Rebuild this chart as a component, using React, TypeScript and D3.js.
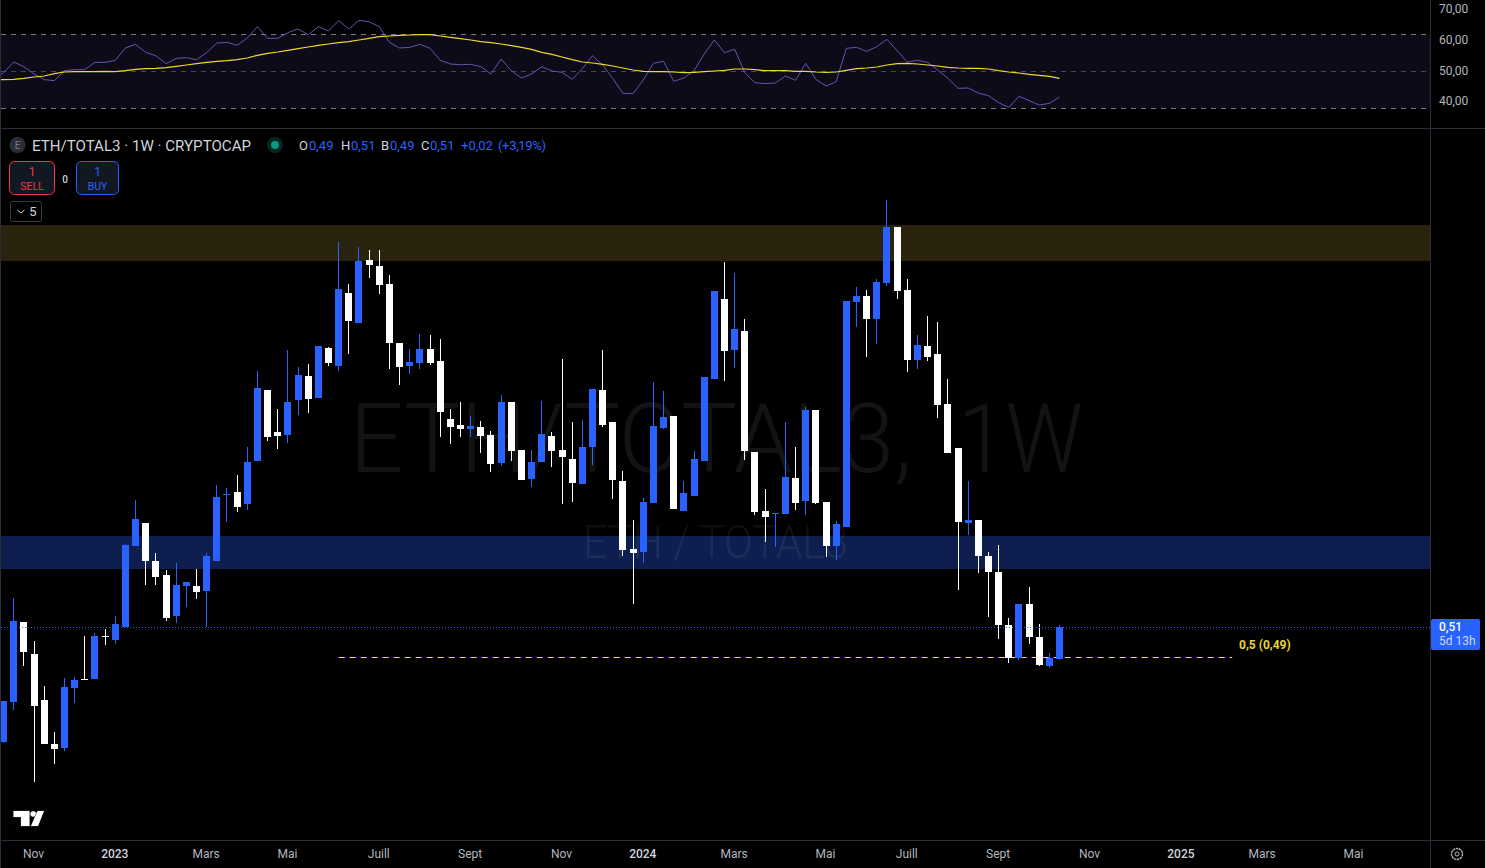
import * as d3 from "d3";
import { useEffect, useRef } from "react";

// weekly candles, oldest first
const opens = [
  0.4336, 0.4603, 0.5136, 0.4923, 0.4616, 0.4323, 0.4296, 0.4696, 0.4756, 0.4756, 0.5043, 0.5016, 0.5103, 0.5643, 0.5796,
  0.5543, 0.545, 0.5176, 0.5376, 0.5376, 0.5343, 0.5543, 0.5983, 0.6003, 0.5923, 0.621, 0.6683, 0.6403, 0.6383, 0.6616,
  0.6776, 0.663, 0.6963, 0.6843, 0.733, 0.713, 0.755, 0.751, 0.739, 0.6996, 0.6843, 0.6863, 0.6956, 0.6876, 0.649,
  0.645, 0.6423, 0.6436, 0.6383, 0.6196, 0.6603, 0.6283, 0.609, 0.6203, 0.6376, 0.6283, 0.6223, 0.6056, 0.6303, 0.6683,
  0.647, 0.6076, 0.5623, 0.5603, 0.593, 0.643, 0.651, 0.5876, 0.5976, 0.621, 0.6756, 0.729, 0.695, 0.7076, 0.627,
  0.5876, 0.5856, 0.5856, 0.6096, 0.5943, 0.655, 0.5936, 0.5643, 0.577, 0.727, 0.731, 0.7156, 0.7397, 0.777, 0.735,
  0.6883, 0.6976, 0.6923, 0.659, 0.6296, 0.5796, 0.5816, 0.5576, 0.547, 0.5116, 0.4896, 0.5256, 0.5036, 0.4843, 0.489,
];
const highs = [
  0.461, 0.5296, 0.5136, 0.501, 0.471, 0.4403, 0.4763, 0.477, 0.5043, 0.5063, 0.509, 0.5176, 0.5656, 0.595, 0.5796,
  0.5596, 0.5483, 0.553, 0.5403, 0.549, 0.5596, 0.605, 0.603, 0.6116, 0.6303, 0.681, 0.6683, 0.6556, 0.695, 0.6836,
  0.6856, 0.6976, 0.697, 0.767, 0.739, 0.7637, 0.7617, 0.7617, 0.745, 0.6996, 0.6956, 0.7056, 0.705, 0.7023, 0.6556,
  0.6603, 0.651, 0.6476, 0.641, 0.665, 0.6603, 0.6283, 0.6283, 0.661, 0.6403, 0.689, 0.647, 0.6483, 0.669, 0.695,
  0.647, 0.6143, 0.5816, 0.5963, 0.6736, 0.6676, 0.651, 0.6076, 0.6276, 0.677, 0.7343, 0.7537, 0.7463, 0.7156, 0.627,
  0.6023, 0.5863, 0.647, 0.6303, 0.657, 0.655, 0.5936, 0.581, 0.7277, 0.737, 0.735, 0.7423, 0.795, 0.777, 0.7423,
  0.705, 0.7176, 0.7136, 0.6756, 0.6296, 0.6076, 0.5816, 0.5603, 0.565, 0.5163, 0.5256, 0.537, 0.5123, 0.493, 0.5116,
];
const lows = [
  0.433, 0.455, 0.4843, 0.407, 0.4323, 0.419, 0.4276, 0.4596, 0.475, 0.4756, 0.4983, 0.499, 0.5103, 0.5643, 0.5383,
  0.5383, 0.5143, 0.513, 0.5236, 0.529, 0.5103, 0.5543, 0.5803, 0.587, 0.5883, 0.621, 0.6343, 0.629, 0.633, 0.6516,
  0.653, 0.663, 0.6843, 0.681, 0.6923, 0.713, 0.743, 0.7323, 0.6823, 0.6716, 0.679, 0.6823, 0.685, 0.637, 0.6323,
  0.637, 0.637, 0.6263, 0.6136, 0.6176, 0.621, 0.6083, 0.6036, 0.6203, 0.617, 0.5923, 0.5936, 0.6056, 0.6183, 0.6436,
  0.5956, 0.5576, 0.5256, 0.553, 0.593, 0.6423, 0.589, 0.5876, 0.5976, 0.621, 0.6756, 0.6743, 0.683, 0.6216, 0.585,
  0.567, 0.5636, 0.5856, 0.5883, 0.585, 0.5923, 0.557, 0.555, 0.577, 0.7103, 0.6903, 0.699, 0.7377, 0.729, 0.6803,
  0.6823, 0.6876, 0.6496, 0.6263, 0.535, 0.5716, 0.5463, 0.517, 0.5023, 0.4863, 0.4883, 0.499, 0.4843, 0.483, 0.4883,
];
const closes = [
  0.461, 0.5143, 0.4936, 0.4576, 0.4323, 0.429, 0.4703, 0.475, 0.475, 0.5043, 0.5036, 0.5123, 0.565, 0.5823, 0.5543,
  0.5436, 0.5163, 0.5383, 0.5403, 0.5336, 0.5576, 0.597, 0.599, 0.5903, 0.6203, 0.6696, 0.637, 0.6376, 0.6603, 0.6783,
  0.6623, 0.6976, 0.6863, 0.7357, 0.7143, 0.7543, 0.7517, 0.7383, 0.6996, 0.6836, 0.687, 0.6956, 0.6863, 0.6536, 0.6436,
  0.6423, 0.6443, 0.6376, 0.619, 0.6603, 0.6276, 0.6083, 0.6203, 0.639, 0.6276, 0.6236, 0.6063, 0.6303, 0.669, 0.645,
  0.6083, 0.5616, 0.5596, 0.5936, 0.6443, 0.6503, 0.589, 0.5996, 0.6223, 0.677, 0.7343, 0.6943, 0.709, 0.6276, 0.587,
  0.5836, 0.5863, 0.6103, 0.593, 0.655, 0.593, 0.5643, 0.579, 0.7277, 0.731, 0.7156, 0.7403, 0.777, 0.7343, 0.6883,
  0.6983, 0.6903, 0.6583, 0.6263, 0.5803, 0.5816, 0.5576, 0.547, 0.5116, 0.4896, 0.5256, 0.5036, 0.485, 0.4896, 0.5103,
];
// rsi series start one week before the first candle, that point sits off the left edge
const rsi = [
  47.4, 49.57, 53.04, 51.52, 49.13, 47.29, 46.96, 50.22, 50.54, 50.54, 52.93, 52.93, 53.58, 57.6, 58.79, 56.19,
  55.1, 52.5, 54.23, 54.45, 53.8, 56.08, 59.23, 59.45, 58.47, 60.86, 64.55, 60.75, 60.75, 62.6, 63.79,
  61.94, 64.55, 63.14, 66.5, 63.79, 66.61, 66.18, 64.55, 59.45, 57.6, 57.82, 58.79, 57.49, 53.58, 52.39,
  52.17, 52.28, 51.52, 49.13, 54.02, 50.22, 47.83, 49.13, 51.52, 50.11, 49.67, 47.39, 50.87, 55.1, 52.06,
  47.61, 42.83, 42.73, 47.18, 52.61, 53.26, 46.74, 47.83, 50.22, 55.65, 60.21, 56.08, 57.17, 49.57, 46.31,
  45.98, 46.2, 48.48, 47.07, 52.61, 47.39, 45.22, 46.63, 57.49, 57.82, 56.51, 58.03, 60.42, 56.73, 53.04,
  53.58, 52.93, 50.43, 47.72, 44.46, 44.57, 42.94, 42.07, 39.79, 38.27, 41.86, 40.44, 39.03, 39.58, 41.64,
];
const rsiMa = [
  47.2, 47.29, 47.39, 47.72, 48.15, 48.48, 49.24, 49.78, 49.89, 49.89, 49.89, 50.0, 49.89, 50.22, 50.65, 50.87,
  50.98, 51.19, 51.63, 52.06, 52.5, 52.93, 53.26, 53.47, 53.8, 54.34, 55.21, 55.86, 56.3, 56.84, 57.38,
  57.93, 58.47, 58.9, 59.34, 59.66, 60.21, 60.75, 61.29, 61.51, 61.73, 61.83, 61.94, 61.94, 61.51, 61.07,
  60.64, 60.21, 59.66, 59.34, 58.9, 58.36, 57.82, 57.17, 56.19, 55.54, 54.67, 53.8, 53.04, 52.71, 52.28,
  51.74, 51.09, 50.43, 50.0, 49.89, 49.89, 49.78, 49.57, 49.67, 49.89, 50.11, 50.33, 50.76, 50.76, 50.54,
  50.22, 50.22, 50.22, 50.0, 50.0, 49.78, 49.67, 49.78, 50.33, 50.87, 51.09, 51.41, 52.06, 52.5, 52.61,
  52.39, 52.06, 51.74, 51.3, 51.09, 50.98, 50.98, 50.76, 50.22, 49.78, 49.46, 49.02, 48.7, 48.37, 47.72,
];

const firstWeek = new Date(Date.UTC(2022, 9, 17));
const lastWeek = new Date(Date.UTC(2024, 9, 14));
const fibEnd = new Date(Date.UTC(2025, 1, 10));
const fibStart = new Date(Date.UTC(2023, 5, 5));

const tickDates = [
  new Date(Date.UTC(2022, 10, 7)),
  new Date(Date.UTC(2023, 0, 2)),
  new Date(Date.UTC(2023, 2, 6)),
  new Date(Date.UTC(2023, 4, 1)),
  new Date(Date.UTC(2023, 6, 3)),
  new Date(Date.UTC(2023, 8, 4)),
  new Date(Date.UTC(2023, 10, 6)),
  new Date(Date.UTC(2024, 0, 1)),
  new Date(Date.UTC(2024, 2, 4)),
  new Date(Date.UTC(2024, 4, 6)),
  new Date(Date.UTC(2024, 6, 1)),
  new Date(Date.UTC(2024, 8, 2)),
  new Date(Date.UTC(2024, 10, 4)),
  new Date(Date.UTC(2025, 0, 6)),
  new Date(Date.UTC(2025, 2, 3)),
  new Date(Date.UTC(2025, 4, 5)),
];
const tickLabels = ["Nov", "2023", "Mars", "Mai", "Juill", "Sept", "Nov", "2024", "Mars", "Mai", "Juill", "Sept", "Nov", "2025", "Mars", "Mai"];
const rsiTicks = [70, 60, 50, 40];
const rsiLevels = [62, 50, 38];

const supplyZone = [0.7783, 0.7543];
const demandZone = [0.571, 0.549];
const lastPrice = 0.51;
const fibLevel = 0.49;

const WIDTH = 1485;
const HEIGHT = 868;
const PLOT_RIGHT = 1430;
const FONT = "Roboto, 'Liberation Sans', sans-serif";
const BLUE = "#2962ff";
const GRID = "#2a2e39";

const weeks = d3.utcMonday.range(firstWeek, d3.utcDay.offset(lastWeek, 1));
const x = d3.scaleUtc([firstWeek, lastWeek], [3.58, 1059.58]);
const y = d3.scaleLinear([0.51, 0.49], [627.5, 657.5]);
const rsiY = d3.scaleLinear([38, 62], [108.17, 34.5]);

const rsiLine = d3
  .line<number>()
  .x((_, i) => x(d3.utcMonday.offset(firstWeek, i - 1)))
  .y((d) => rsiY(d));

export default function App() {
  const gx = useRef<SVGGElement>(null);
  const gr = useRef<SVGGElement>(null);

  useEffect(() => {
    const ax = d3
      .axisBottom(x)
      .tickValues(tickDates)
      .tickSize(0)
      .tickFormat((_, i) => tickLabels[i]);
    const sx = d3.select(gx.current!).call(ax as any);
    sx.select(".domain").remove();
    sx.selectAll("text")
      .attr("y", 0)
      .attr("dy", "0.35em")
      .style("font-family", FONT)
      .style("font-size", "12px")
      .style("font-weight", (_, i) => (/^\d/.test(tickLabels[i]) ? 500 : 400))
      .style("fill", (_, i) => (/^\d/.test(tickLabels[i]) ? "#d1d4dc" : "#b2b5be"));

    const ar = d3
      .axisRight(rsiY)
      .tickValues(rsiTicks)
      .tickSize(0)
      .tickFormat((d) => d3.format(".2f")(d as number).replace(".", ","));
    const sr = d3.select(gr.current!).call(ar as any);
    sr.select(".domain").remove();
    sr.selectAll("text")
      .attr("x", 9)
      .attr("dy", "0.24em")
      .style("font-family", FONT)
      .style("font-size", "12px")
      .style("fill", "#b2b5be");
  }, []);

  return (
    <svg
      width={WIDTH}
      height={HEIGHT}
      style={{ position: "absolute", left: 0, top: 0, display: "block", background: "#000" }}
    >
      <defs>
        <clipPath id="plot">
          <rect x={1} y={0} width={PLOT_RIGHT - 1} height={840} />
        </clipPath>
      </defs>

      {/* RSI pane */}
      <g clipPath="url(#plot)">
        <rect x={1} y={rsiY(62)} width={PLOT_RIGHT} height={rsiY(38) - rsiY(62)} fill="#0e0b18" />
        {rsiLevels.map((d) => (
          <line
            key={d}
            x1={1}
            x2={PLOT_RIGHT}
            y1={Math.floor(rsiY(d)) + 0.5}
            y2={Math.floor(rsiY(d)) + 0.5}
            stroke="#787b86"
            strokeOpacity={d === 50 ? 0.55 : 1}
            strokeDasharray="5 5"
          />
        ))}
        <path d={rsiLine(rsi) as string} fill="none" stroke="#6a4fb0" strokeWidth={1} />
        <path d={rsiLine(rsiMa) as string} fill="none" stroke="#ecd92c" strokeWidth={1.2} />
      </g>
      <g ref={gr} transform={`translate(${PLOT_RIGHT},0)`} />

      {/* main pane */}
      <g clipPath="url(#plot)">
        <rect x={1} y={y(supplyZone[0])} width={PLOT_RIGHT} height={y(supplyZone[1]) - y(supplyZone[0])} fill="#2a230d" />
        <rect x={1} y={y(demandZone[0])} width={PLOT_RIGHT} height={y(demandZone[1]) - y(demandZone[0])} fill="#0e1f4f" />
        <text x={350} y={472} fontFamily={FONT} fontWeight={300} fontSize={96} textLength={562} lengthAdjust="spacingAndGlyphs" fill="#fff" fillOpacity={0.075}>
          ETH/TOTAL3,
        </text>
        <text x={958} y={472} fontFamily={FONT} fontWeight={300} fontSize={96} textLength={125} lengthAdjust="spacingAndGlyphs" fill="#fff" fillOpacity={0.075}>
          1W
        </text>
        <text x={583} y={558} fontFamily={FONT} fontWeight={300} fontSize={46} textLength={265} lengthAdjust="spacingAndGlyphs" fill="#fff" fillOpacity={0.075}>
          ETH / TOTAL3
        </text>

        <line
          x1={x(fibStart)}
          x2={x(fibEnd)}
          y1={y(fibLevel)}
          y2={y(fibLevel)}
          stroke="#f5e642"
          strokeDasharray="6 5"
        />

        {weeks.map((w, i) => {
          const up = closes[i] >= opens[i];
          const color = up ? BLUE : "#fff";
          const cx = Math.floor(x(w));
          const top = Math.round(y(Math.max(opens[i], closes[i])));
          const bottom = Math.round(y(Math.min(opens[i], closes[i])));
          const hi = Math.round(y(highs[i]));
          const lo = Math.round(y(lows[i]));
          return (
            <g key={i} fill={color}>
              <rect x={cx} y={hi} width={1} height={Math.max(lo - hi, 1)} />
              <rect x={cx - 3} y={top} width={7} height={Math.max(bottom - top, 1)} />
            </g>
          );
        })}

        <line x1={1} x2={PLOT_RIGHT} y1={y(lastPrice)} y2={y(lastPrice)} stroke={BLUE} strokeDasharray="1 2" />
      </g>

      <text x={1239} y={649} fontFamily={FONT} fontSize={12} fontWeight={700} fill="#e8d52b">
        0,5 (0,49)
      </text>

      {/* header */}
      <circle cx={17.5} cy={145} r={8} fill="#2a2e39" />
      <text x={17.5} y={148.5} textAnchor="middle" fontFamily={FONT} fontSize={10} fill="#787b86">E</text>
      <text x={32} y={150.5} fontFamily={FONT} fontSize={14} textLength={219} lengthAdjust="spacingAndGlyphs" fill="#d1d4dc">
        ETH/TOTAL3 · 1W · CRYPTOCAP
      </text>
      <circle cx={275} cy={145} r={8} fill="#0a2420" />
      <circle cx={275} cy={145} r={4} fill="#089981" />
      <g fontFamily={FONT} fontSize={13}>
        <text x={299} y={150} fill="#d1d4dc">O</text>
        <text x={309} y={150} fill={BLUE}>0,49</text>
        <text x={341} y={150} fill="#d1d4dc">H</text>
        <text x={351} y={150} fill={BLUE}>0,51</text>
        <text x={381} y={150} fill="#d1d4dc">B</text>
        <text x={390} y={150} fill={BLUE}>0,49</text>
        <text x={421} y={150} fill="#d1d4dc">C</text>
        <text x={430} y={150} fill={BLUE}>0,51</text>
        <text x={461} y={150} fill={BLUE}>+0,02</text>
        <text x={498} y={150} fill={BLUE} textLength={48}>(+3,19%)</text>
      </g>

      {/* order buttons */}
      <rect x={9.5} y={161.5} width={45} height={33} rx={5} fill="#131722" stroke="#f23645" />
      <text x={32} y={176} textAnchor="middle" fontFamily={FONT} fontSize={12} fill="#f23645">1</text>
      <text x={32} y={190} textAnchor="middle" fontFamily={FONT} fontSize={10.5} fill="#f23645">SELL</text>
      <text x={65} y={183} textAnchor="middle" fontFamily={FONT} fontSize={10} fontWeight={500} fill="#d1d4dc">0</text>
      <rect x={76.5} y={161.5} width={42} height={33} rx={5} fill="#131722" stroke={BLUE} />
      <text x={97.5} y={176} textAnchor="middle" fontFamily={FONT} fontSize={12} fill={BLUE}>1</text>
      <text x={97.5} y={190} textAnchor="middle" fontFamily={FONT} fontSize={10.5} fill={BLUE}>BUY</text>
      <rect x={10.5} y={201.5} width={31} height={20} rx={2} fill="#000" stroke="#363a45" />
      <path d="M17.5 210 L21 213 L24.5 210" fill="none" stroke="#d1d4dc" />
      <text x={33} y={216} textAnchor="middle" fontFamily={FONT} fontSize={13} fill="#d1d4dc">5</text>

      {/* logo */}
      <g fill="#fff" stroke="#2a2e39" strokeWidth={1} paintOrder="stroke">
        <path d="M13.5 811 H29.5 V826 H21 V817 H13.5 Z" />
        <circle cx={33.3} cy={814} r={2.8} />
        <path d="M37.5 811 H44 L38 826 H31 Z" />
      </g>

      {/* frame */}
      <line x1={0.5} x2={0.5} y1={0} y2={HEIGHT} stroke={GRID} />
      <line x1={PLOT_RIGHT + 0.5} x2={PLOT_RIGHT + 0.5} y1={0} y2={HEIGHT} stroke={GRID} />
      <line x1={0} x2={WIDTH} y1={128.5} y2={128.5} stroke={GRID} />
      <line x1={0} x2={WIDTH} y1={840.5} y2={840.5} stroke={GRID} />

      {/* time axis */}
      <g ref={gx} transform="translate(-1,854)" />

      {/* last price tag */}
      <rect x={1431} y={619} width={49} height={31} rx={2} fill={BLUE} />
      <text x={1439} y={631} fontFamily={FONT} fontSize={12} fontWeight={500} fill="#fff">0,51</text>
      <text x={1439} y={645} fontFamily={FONT} fontSize={12} fill="#c9d8ff">5d 13h</text>

      {/* settings icon */}
      <circle cx={1457} cy={854} r={5.5} fill="none" stroke="#b2b5be" strokeWidth={1.4} strokeDasharray="2.4 0.6" />
      <circle cx={1457} cy={854} r={2} fill="none" stroke="#b2b5be" />
    </svg>
  );
}
